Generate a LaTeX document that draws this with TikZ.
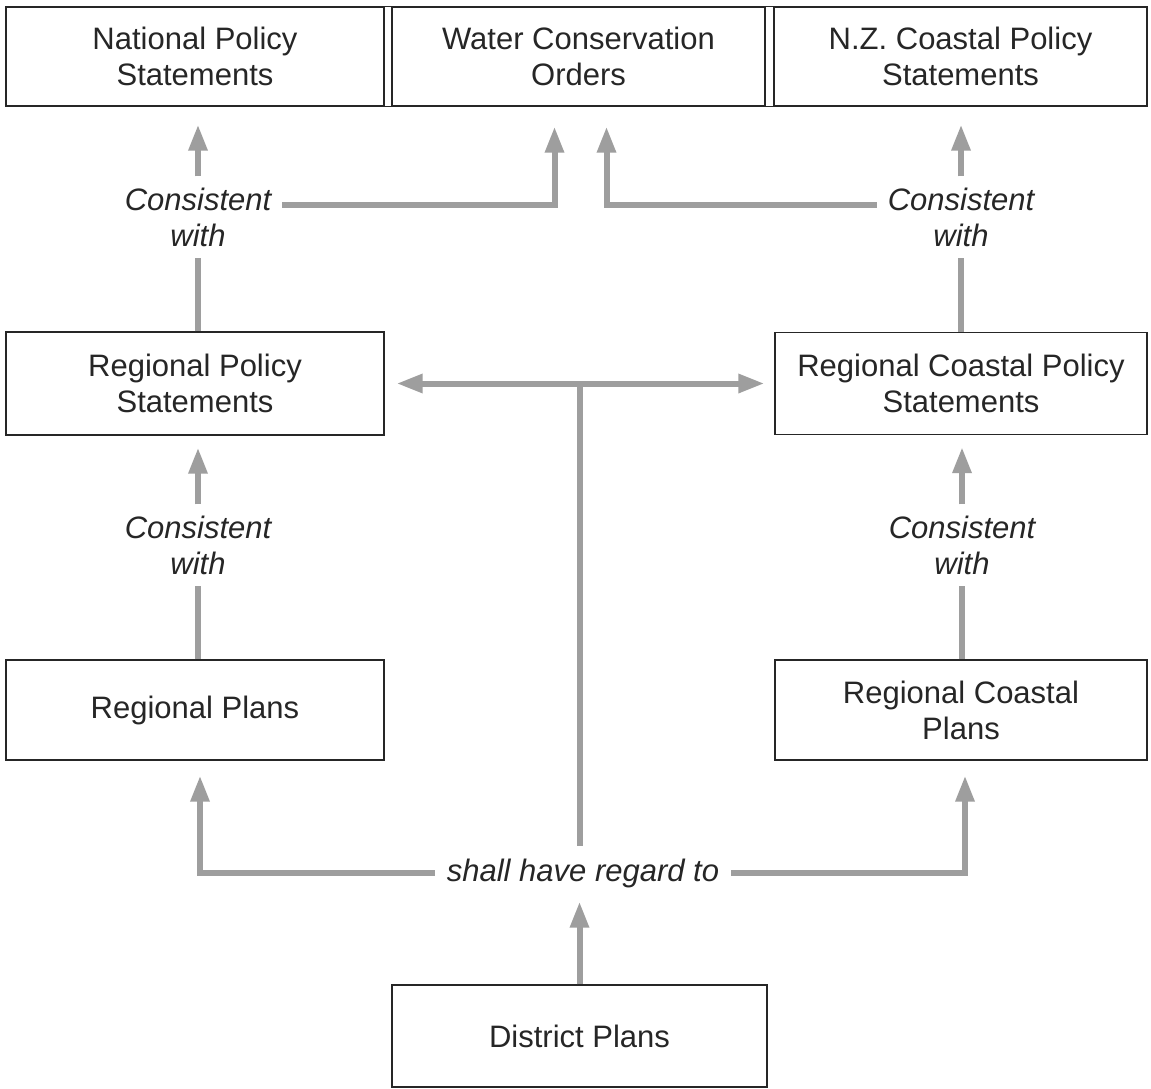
\documentclass[tikz,border=0pt]{standalone}
\usepackage{fontspec}
\setmainfont{Liberation Sans}
\usetikzlibrary{arrows.meta}
\begin{document}
\begin{tikzpicture}[x=1pt,y=-1pt,
  box/.style={draw=black!85,line width=1.3pt,align=center,inner sep=0pt,
    font=\fontsize{31}{36}\selectfont,text=black!85},
  lbl/.style={align=center,inner sep=11pt,font=\fontsize{31}{36}\selectfont\itshape,text=black!85},
  conn/.style={draw=black!38,line width=6pt,line join=miter},
  arr/.style={conn,-{Triangle[length=26pt,width=18pt]}}]
\useasboundingbox (0,0) rectangle (1151,1089);
\fill[white] (0,0) rectangle (1151,1089);
% top row
\node[box,minimum width=378pt,minimum height=99pt] (nps) at (195,56.5) {National Policy\\Statements};
\node[box,minimum width=373pt,minimum height=99pt] (wco) at (578.5,56.5) {Water Conservation\\Orders};
\node[box,minimum width=373pt,minimum height=99pt] (nzc) at (960.5,56.5) {N.Z. Coastal Policy\\Statements};
\draw[black!85,line width=1.3pt] (nps.north east) -- (wco.north west) (nps.south east) -- (wco.south west)
  (wco.north east) -- (nzc.north west) (wco.south east) -- (nzc.south west);
% middle and lower
\node[box,minimum width=378pt,minimum height=103pt] (rps) at (195,383.5) {Regional Policy\\Statements};
\node[box,minimum width=372pt,minimum height=102pt] (rcps) at (961,383.5) {Regional Coastal Policy\\Statements};
\node[box,minimum width=378pt,minimum height=100pt] (rp) at (195,710) {Regional Plans};
\node[box,minimum width=372pt,minimum height=100pt] (rcp) at (961,710) {Regional Coastal\\Plans};
\node[box,minimum width=375pt,minimum height=102pt] (dp) at (579.5,1036) {District Plans};
% labels
\node[lbl] (cw1) at (198,217) {Consistent\\with};
\node[lbl] (cw2) at (961,217) {Consistent\\with};
\node[lbl] (cw3) at (198,545) {Consistent\\with};
\node[lbl] (cw4) at (962,545) {Consistent\\with};
\node[lbl,inner sep=12pt] (reg) at (583,873) {shall have regard to};
% connectors
\draw[conn] (cw1.south |- rps.north) -- (cw1.south);
\draw[arr] (cw1.north) -- ([yshift=-18pt]cw1.north |- nps.south);
\draw[conn] (cw2.south |- rcps.north) -- (cw2.south);
\draw[arr] (cw2.north) -- ([yshift=-18pt]cw2.north |- nzc.south);
\draw[arr,shorten >=20pt] ([yshift=12pt]cw1.east) -| ([xshift=-24pt]wco.south);
\draw[arr,shorten >=20pt] ([yshift=12pt]cw2.west) -| ([xshift=28pt]wco.south);
\draw[conn] (cw3.south |- rp.north) -- (cw3.south);
\draw[arr] (cw3.north) -- ([yshift=-12pt]cw3.north |- rps.south);
\draw[conn] (cw4.south |- rcp.north) -- (cw4.south);
\draw[arr] (cw4.north) -- ([yshift=-12pt]cw4.north |- rcps.south);
\draw[arr,{Triangle[length=26pt,width=18pt]}-{Triangle[length=26pt,width=18pt]},shorten <=12pt,shorten >=10pt] (rps.east) -- (rcps.west);
\coordinate (t) at (580,383.5);
\draw[conn] (t) -- (t |- reg.north);
\draw[arr,shorten >=15pt] (reg.west) -| ([xshift=5pt]rp.south);
\draw[arr,shorten >=15pt] (reg.east) -| ([xshift=4pt]rcp.south);
\draw[arr,shorten >=2pt] (dp.north) -- (dp.north |- reg.south);
\end{tikzpicture}
\end{document}
